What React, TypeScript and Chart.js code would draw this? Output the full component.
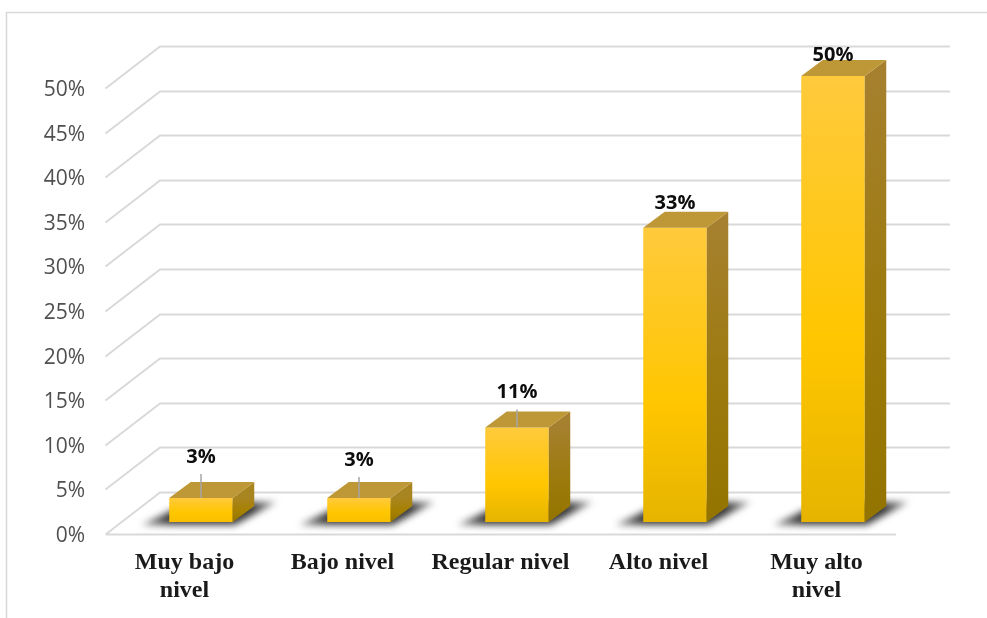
import React, { useEffect, useRef } from "react";
import { Chart, registerables } from "chart.js";

Chart.register(...registerables);

const categories = [["Muy bajo", "nivel"], "Bajo nivel", "Regular nivel", "Alto nivel", ["Muy alto", "nivel"]];
const values = [2.7, 2.7, 10.6, 33, 50];
const valueLabels = ["3%", "3%", "11%", "33%", "50%"];
const labelLift = [41, 38, 35, 24, 21];
const yTicks = [0, 5, 10, 15, 20, 25, 30, 35, 40, 45, 50];

const GRID = "#D9D9D9";
const DEPTH_X = 21.5;
const DEPTH_Y = 16;

function wallAndShadowPlugin() {
  return {
    id: "wall",
    beforeDatasetsDraw(chart: any) {
      const ctx = chart.ctx;
      const y = chart.scales.y;
      ctx.save();
      ctx.strokeStyle = GRID;
      ctx.lineWidth = 1.6;
      ctx.beginPath();
      ctx.moveTo(6.5, 618);
      ctx.lineTo(6.5, 12.5);
      ctx.lineTo(987, 12.5);
      ctx.stroke();
      ctx.lineWidth = 2;
      yTicks.forEach((v) => {
        const py = Math.round(y.getPixelForValue(v)) - 29.5;
        ctx.beginPath();
        ctx.moveTo(105.5, py + 42);
        ctx.lineTo(160, py);
        ctx.lineTo(950, py);
        if (v === 0) {
          ctx.moveTo(105.5, py + 42);
          ctx.lineTo(896, py + 42);
        }
        ctx.stroke();
      });
      const meta = chart.getDatasetMeta(0);
      meta.data.forEach((bar: any) => {
        const { x, width, base } = bar.getProps(["x", "width", "base"], true);
        const L = x - width / 2;
        const R = x + width / 2;
        ctx.save();
        ctx.filter = "blur(3.5px)";
        const g = ctx.createLinearGradient(L - 30, 0, R + 46, 0);
        g.addColorStop(0, "#a0a0a0");
        g.addColorStop(0.22, "#3a3a3a");
        g.addColorStop(0.8, "#3a3a3a");
        g.addColorStop(1, "#a8a8a8");
        ctx.fillStyle = g;
        ctx.beginPath();
        ctx.moveTo(L - 28, base + 3);
        ctx.lineTo(R + 2, base + 3);
        ctx.lineTo(R + 44, base - 20);
        ctx.lineTo(L + 20, base - 20);
        ctx.closePath();
        ctx.fill();
        ctx.restore();
      });
      ctx.restore();
    },
    afterDatasetsDraw(chart: any) {
      const ctx = chart.ctx;
      const meta = chart.getDatasetMeta(0);
      ctx.save();
      meta.data.forEach((bar: any, i: number) => {
        const { x, y, width, base } = bar.getProps(["x", "y", "width", "base"], true);
        const L = x - width / 2;
        const R = x + width / 2;
        const tall = base - y > 60;
        const side = ctx.createLinearGradient(0, y, 0, base);
        side.addColorStop(0, tall ? "#A6802E" : "#A98521");
        side.addColorStop(0.55, tall ? "#9C7A0C" : "#A68100");
        side.addColorStop(1, "#947400");
        ctx.fillStyle = side;
        ctx.beginPath();
        ctx.moveTo(R, y);
        ctx.lineTo(R + DEPTH_X, y - DEPTH_Y);
        ctx.lineTo(R + DEPTH_X, base - DEPTH_Y);
        ctx.lineTo(R, base);
        ctx.closePath();
        ctx.fill();
        ctx.fillStyle = "#BE9736";
        ctx.beginPath();
        ctx.moveTo(L, y);
        ctx.lineTo(L + DEPTH_X, y - DEPTH_Y);
        ctx.lineTo(R + DEPTH_X, y - DEPTH_Y);
        ctx.lineTo(R, y);
        ctx.closePath();
        ctx.fill();
        const lift = labelLift[i];
        if (lift > 30) {
          ctx.strokeStyle = "#A6A6A6";
          ctx.lineWidth = 1.5;
          ctx.beginPath();
          ctx.moveTo(x, y);
          ctx.lineTo(x, y - lift + 17);
          ctx.stroke();
        }
        ctx.fillStyle = "#0D0D0D";
        ctx.font = 'bold 20px "Open Sans"';
        ctx.textAlign = "center";
        ctx.textBaseline = "middle";
        ctx.fillText(valueLabels[i], x, y - lift);
      });
      ctx.restore();
    },
  };
}

export default function App() {
  const ref = useRef<HTMLCanvasElement>(null);
  useEffect(() => {
    const chart = new Chart(ref.current as HTMLCanvasElement, {
      type: "bar",
      data: {
        labels: categories as any,
        datasets: [
          {
            data: values,
            barPercentage: 0.402,
            categoryPercentage: 1,
            backgroundColor(c: any) {
              const area = c.chart.chartArea;
              if (!area) return "#FFC000";
              const s = c.chart.scales.y;
              const top = s.getPixelForValue(values[c.dataIndex]);
              const g = c.chart.ctx.createLinearGradient(0, top, 0, area.bottom);
              const tall = area.bottom - top > 60;
              g.addColorStop(0, "#FFCA3C");
              g.addColorStop(0.6, "#FFC600");
              g.addColorStop(1, tall ? "#E6B400" : "#F8BF00");
              return g;
            },
          },
        ],
      },
      plugins: [wallAndShadowPlugin()],
      options: {
        responsive: false,
        animation: false,
        layout: { padding: { top: 76, right: 75, left: 0, bottom: 0 } },
        plugins: { legend: { display: false }, tooltip: { enabled: false } },
        scales: {
          x: {
            grid: { display: false, drawTicks: false },
            border: { display: false },
            afterFit(s: any) {
              s.height = 96;
            },
            ticks: {
              autoSkip: false,
              maxRotation: 0,
              padding: 27,
              labelOffset: -16.5,
              color: "#1A1A1A",
              font: { family: '"Liberation Serif"', size: 24, weight: "bold", lineHeight: 1.16 },
            },
          },
          y: {
            min: 0,
            max: 50,
            grid: { display: false, drawTicks: false },
            border: { display: false },
            afterFit(s: any) {
              s.width = 122;
            },
            ticks: {
              stepSize: 5,
              padding: 37,
              labelOffset: 14,
              color: "#505050",
              font: { family: '"Open Sans"', size: 21 },
              callback: (v: any) => v + "%",
            },
          },
        },
      },
    } as any);
    return () => chart.destroy();
  }, []);
  return (
    <div style={{ position: "absolute", left: 0, top: 0, width: 987, height: 618, background: "#fff" }}>
      <canvas ref={ref} width={987} height={618} style={{ display: "block" }} />
    </div>
  );
}
